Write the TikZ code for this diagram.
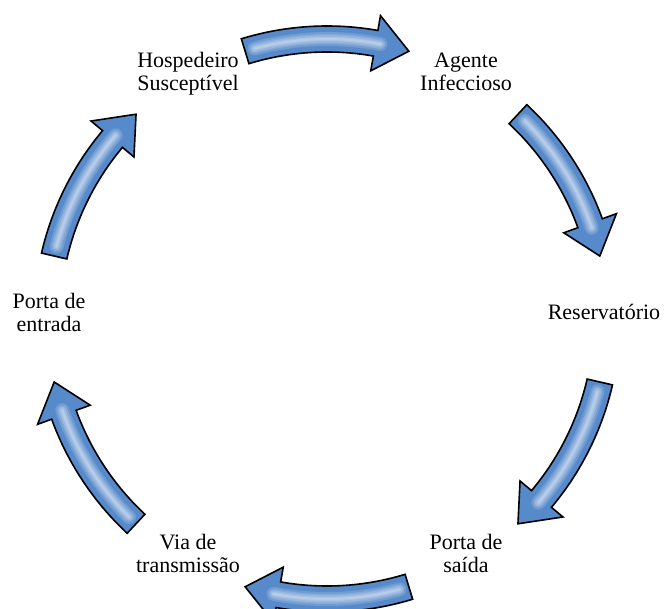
\documentclass[tikz,border=0pt]{standalone}
\usepackage{fontspec}
\setmainfont{Liberation Serif}
\definecolor{arrowblue}{RGB}{86,138,202}

\begin{document}
\begin{tikzpicture}[x=1pt,y=1pt,
  lbl/.style={align=center,font=\fontsize{22}{23}\selectfont},
  cyclearrow/.style={draw=black,line width=1.6pt,fill=arrowblue,line join=miter},
  glow/.style={white,line cap=round,opacity=.16}]
\useasboundingbox (0,0) rectangle (664,608);
\coordinate (c) at (327,289);
%labels round the cycle
\node[lbl] (agente) at (466,536) {Agente\\Infeccioso};
\node[lbl] (reserv) at (604,296) {Reservatório};
\node[lbl] (saida) at (466,55) {Porta de\\saída};
\node[lbl] (via) at (188,55) {Via de\\transmissão};
\node[lbl] (entrada) at (49,296) {Porta de\\entrada};
\node[lbl] (hosp) at (188,534) {Hospedeiro\\Susceptível};
%curved block arrows, clockwise
\foreach \a in {90,30,-30,-90,-150,150}{
  \draw[cyclearrow,shift={(c)}] (\a+17:293) arc[start angle=\a+17,end angle=\a-10,radius=293]
    -- (\a-10:308) -- (\a-17:280) -- (\a-10:252) -- (\a-10:267)
    arc[start angle=\a-10,end angle=\a+17,radius=267] -- cycle;
  %soft highlight along the middle
  \foreach \w in {14,10,7,4,2}
    \draw[glow,line width=\w pt,shift={(c)}] (\a+15:280) arc[start angle=\a+15,end angle=\a-11,radius=280];
}
\end{tikzpicture}
\end{document}
